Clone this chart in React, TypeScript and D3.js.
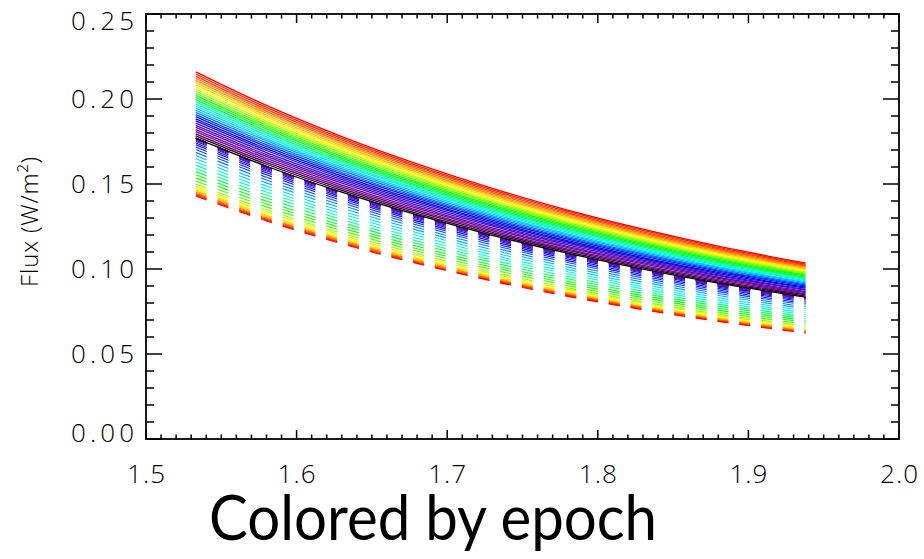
import React from 'react';
import * as d3 from 'd3';

// Wavelength grid (microns) and the reference spectrum shape (latest epoch, solid)
const WAVELENGTH = [1.533, 1.58, 1.63, 1.68, 1.73, 1.78, 1.83, 1.88, 1.938];
const REF_FLUX = [0.2160, 0.1962, 0.1779, 0.1618, 0.1474, 0.1347, 0.1234, 0.1134, 0.1035];

// Solid curves: flux at the first and last wavelength for each epoch (earliest first)
const SOLID_START = [
  0.1770, 0.1783, 0.1795, 0.1808, 0.1820, 0.1833, 0.1845, 0.1858,
  0.1871, 0.1883, 0.1896, 0.1908, 0.1921, 0.1934, 0.1946, 0.1959,
  0.1971, 0.1984, 0.1996, 0.2009, 0.2022, 0.2034, 0.2047, 0.2059,
  0.2072, 0.2085, 0.2097, 0.2110, 0.2122, 0.2135, 0.2147, 0.2160,
];
const SOLID_END = [
  0.0835, 0.0841, 0.0848, 0.0854, 0.0861, 0.0867, 0.0874, 0.0880,
  0.0887, 0.0893, 0.0900, 0.0906, 0.0912, 0.0919, 0.0925, 0.0932,
  0.0938, 0.0945, 0.0951, 0.0958, 0.0964, 0.0971, 0.0977, 0.0984,
  0.0990, 0.0996, 0.1003, 0.1009, 0.1016, 0.1022, 0.1029, 0.1035,
];

// Dashed curves: flux at the first and last wavelength for each epoch
const DASH_START = [
  0.1770, 0.1770, 0.1769, 0.1768, 0.1766, 0.1763, 0.1758, 0.1751,
  0.1742, 0.1731, 0.1718, 0.1703, 0.1686, 0.1668, 0.1649, 0.1630,
  0.1611, 0.1592, 0.1573, 0.1554, 0.1536, 0.1518, 0.1500, 0.1487,
  0.1476, 0.1467, 0.1459, 0.1452, 0.1446, 0.1440, 0.1435, 0.1430,
];
const DASH_END = [
  0.0830, 0.0830, 0.0829, 0.0829, 0.0828, 0.0826, 0.0822, 0.0818,
  0.0812, 0.0805, 0.0797, 0.0788, 0.0777, 0.0766, 0.0754, 0.0742,
  0.0731, 0.0719, 0.0708, 0.0696, 0.0686, 0.0675, 0.0664, 0.0657,
  0.0650, 0.0645, 0.0640, 0.0636, 0.0633, 0.0629, 0.0626, 0.0623,
];

const X_TICKS = [1.5, 1.6, 1.7, 1.8, 1.9, 2.0];
const X_TICK_LABELS = ['1.5', '1.6', '1.7', '1.8', '1.9', '2.0'];
const Y_TICKS = [0, 0.05, 0.1, 0.15, 0.2, 0.25];
const Y_TICK_LABELS = ['0.00', '0.05', '0.10', '0.15', '0.20', '0.25'];

const WIDTH = 924;
const HEIGHT = 559;
const PLOT = { left: 146, right: 899, top: 14, bottom: 439 };

const x = d3.scaleLinear().domain([1.5, 2.0]).range([PLOT.left, PLOT.right]);
const y = d3.scaleLinear().domain([0, 0.25]).range([PLOT.bottom, PLOT.top]);

// Rainbow-with-black colour table, indexed by epoch fraction
const rainbow = d3
  .scaleLinear<string>()
  .domain([0, 0.1, 0.2, 0.3, 0.36, 0.44, 0.5, 0.58, 0.63, 0.72, 0.78, 0.86, 0.93, 1])
  .range([
    '#000000', '#780090', '#4a10c0', '#0000e8', '#0050ff', '#00c8ff', '#00ffe0',
    '#00ff50', '#00ff00', '#a0ff00', '#ffff00', '#ffa000', '#ff4800', '#ff0000',
  ])
  .interpolate(d3.interpolateRgb);

// Fractional position along the reference spectrum (in log flux), per wavelength
const shape = REF_FLUX.map(
  (f) => Math.log(f / REF_FLUX[0]) / Math.log(REF_FLUX[REF_FLUX.length - 1] / REF_FLUX[0]),
);

function curve(start: number, end: number): [number, number][] {
  return WAVELENGTH.map((w, k) => [w, start * Math.pow(end / start, shape[k])]);
}

const line = d3
  .line<[number, number]>()
  .x((d) => x(d[0]))
  .y((d) => y(d[1]))
  .curve(d3.curveMonotoneX);

const N = SOLID_START.length;
const epochColor = (i: number) => rainbow(i / (N - 1));

// Dash columns shared by all dashed curves
const dashX0 = x(WAVELENGTH[0]);
const dashX1 = x(WAVELENGTH[WAVELENGTH.length - 1]);
const DASH_PERIOD = 21.74;
const DASH_ON = 11;
const dashCols = d3.range(dashX0, dashX1 + 1, DASH_PERIOD);

const xMinor = d3.range(150, 200, 1).map((v) => v / 100).filter((v) => Math.round(v * 100) % 10 !== 0);
const yMinor = d3.range(0, 26, 1).map((v) => v / 100).filter((v) => Math.round(v * 100) % 5 !== 0);

const tickFont = "'Open Sans', 'DejaVu Sans', sans-serif";

// y tick labels sit centred on their tick, kept inside the frame at the ends
const yLabelCenter = (t: number) => Math.min(Math.max(y(t), PLOT.top + 7), PLOT.bottom - 6);

export default function App() {
  return (
    <svg
      width={WIDTH}
      height={HEIGHT}
      viewBox={`0 0 ${WIDTH} ${HEIGHT}`}
      style={{ position: 'absolute', left: 0, top: 0, background: '#fff' }}
    >
      <defs>
        <clipPath id="dash-cols">
          {dashCols.map((c, i) => (
            <rect key={i} x={c} y={0} width={DASH_ON} height={HEIGHT} />
          ))}
        </clipPath>
      </defs>

      {/* dashed epoch curves */}
      <g clipPath="url(#dash-cols)" fill="none" strokeWidth={1.1}>
        {DASH_START.map((s, i) => (
          <path key={i} d={line(curve(s, DASH_END[i])) || ''} stroke={epochColor(i)} />
        ))}
      </g>

      {/* solid epoch curves */}
      <g fill="none" strokeWidth={1.3}>
        {SOLID_START.map((s, i) => (
          <path key={i} d={line(curve(s, SOLID_END[i])) || ''} stroke={epochColor(i)} />
        ))}
      </g>

      {/* frame */}
      <rect
        x={PLOT.left}
        y={PLOT.top}
        width={PLOT.right - PLOT.left}
        height={PLOT.bottom - PLOT.top}
        fill="none"
        stroke="#000"
        strokeWidth={1.8}
      />

      {/* ticks */}
      <g stroke="#000" strokeWidth={1.5}>
        {X_TICKS.map((t, i) => (
          <g key={'xm' + i}>
            <line x1={x(t)} x2={x(t)} y1={PLOT.bottom} y2={PLOT.bottom - 9} />
            <line x1={x(t)} x2={x(t)} y1={PLOT.top} y2={PLOT.top + 9} />
          </g>
        ))}
        {xMinor.map((t, i) => (
          <g key={'xn' + i}>
            <line x1={x(t)} x2={x(t)} y1={PLOT.bottom} y2={PLOT.bottom - 4.5} />
            <line x1={x(t)} x2={x(t)} y1={PLOT.top} y2={PLOT.top + 4.5} />
          </g>
        ))}
        {Y_TICKS.map((t, i) => (
          <g key={'ym' + i}>
            <line x1={PLOT.left} x2={PLOT.left + 16} y1={y(t)} y2={y(t)} />
            <line x1={PLOT.right} x2={PLOT.right - 16} y1={y(t)} y2={y(t)} />
          </g>
        ))}
        {yMinor.map((t, i) => (
          <g key={'yn' + i}>
            <line x1={PLOT.left} x2={PLOT.left + 8} y1={y(t)} y2={y(t)} />
            <line x1={PLOT.right} x2={PLOT.right - 8} y1={y(t)} y2={y(t)} />
          </g>
        ))}
      </g>

      {/* tick labels */}
      <g fontFamily={tickFont} fontWeight={300} fontSize={26} fill="#000">
        {X_TICKS.map((t, i) => (
          <text
            key={'xl' + i}
            x={x(t)}
            y={483}
            textAnchor="middle"
            textLength={38}
            lengthAdjust="spacing"
          >
            {X_TICK_LABELS[i]}
          </text>
        ))}
        {Y_TICKS.map((t, i) => (
          <text
            key={'yl' + i}
            x={134}
            y={yLabelCenter(t) + 9}
            textAnchor="end"
            textLength={63}
            lengthAdjust="spacing"
          >
            {Y_TICK_LABELS[i]}
          </text>
        ))}
      </g>

      {/* axis title */}
      <text
        transform="translate(38,222) rotate(-90)"
        textAnchor="middle"
        fontFamily={tickFont}
        fontWeight={300}
        fontSize={24}
        textLength={130}
        lengthAdjust="spacing"
        fill="#000"
      >
        Flux (W/m²)
      </text>

      {/* caption */}
      <text
        x={433}
        y={540}
        textAnchor="middle"
        fontFamily="Lato, 'Open Sans', sans-serif"
        fontSize={62}
        textLength={448}
        lengthAdjust="spacingAndGlyphs"
        fill="#000"
      >
        Colored by epoch
      </text>
    </svg>
  );
}
